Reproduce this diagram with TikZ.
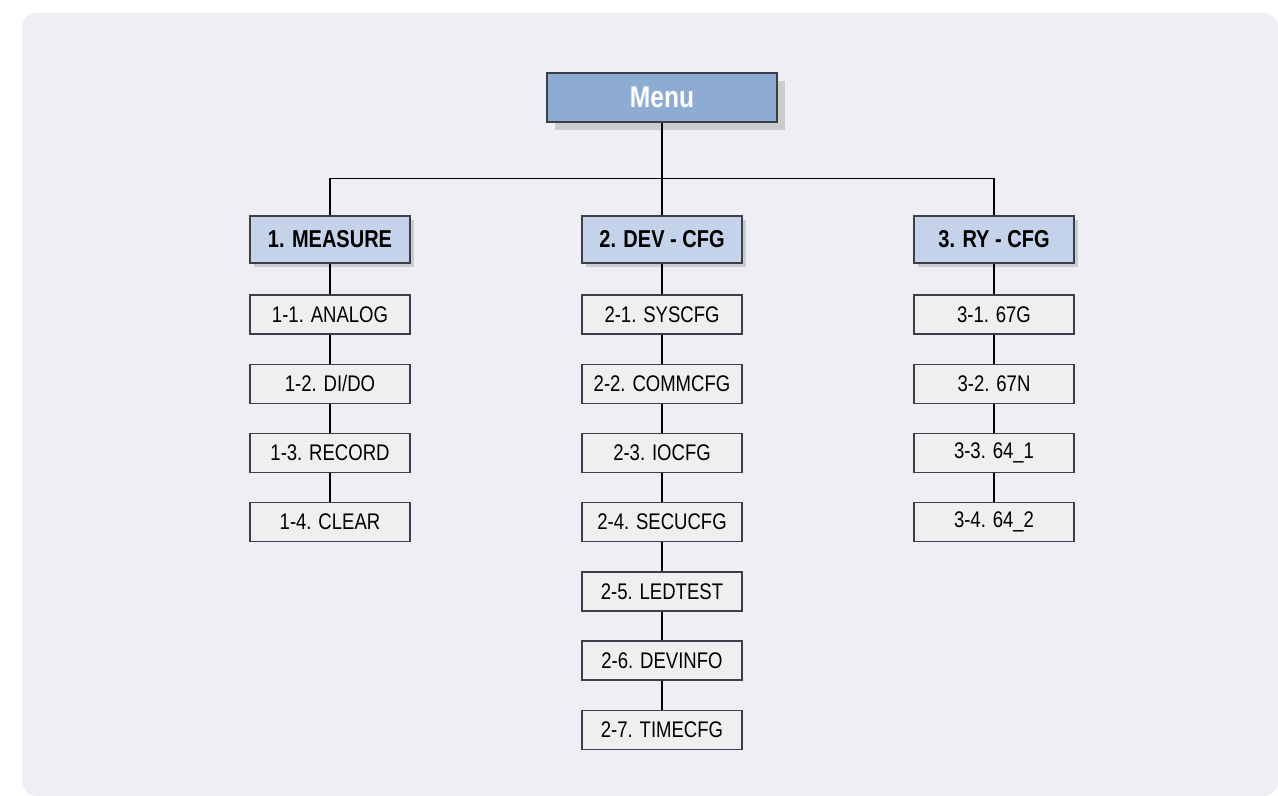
\documentclass[tikz,border=0pt]{standalone}
\usepackage{fontspec}
\setmainfont{Liberation Sans}[FakeStretch=0.82]
\usepackage{tikz}
\usetikzlibrary{shadows}
\definecolor{panelbg}{HTML}{EEEEF4}
\definecolor{menufill}{HTML}{8EABD4}
\definecolor{groupfill}{HTML}{C5D3EA}
\definecolor{itemfill}{HTML}{EFEFEF}
\definecolor{boxline}{HTML}{3A3F48}

\begin{document}
\begin{tikzpicture}[x=0.5pt, y=-0.5pt,
  grow=down,
  level 1/.style={sibling distance=166pt, level distance=71pt,
    edge from parent path={(\tikzparentnode.south) -- ++(0,-28pt) -| (\tikzchildnode.north)}},
  level 2/.style={level distance=37.5pt,
    edge from parent path={(\tikzparentnode.south) -- (\tikzchildnode.north)}},
  level 3/.style={level distance=34.6pt},
  edge from parent/.style={draw, line width=0.8pt},
  menubox/.style={draw=boxline, line width=0.7pt, fill=menufill,
    minimum width=115pt, minimum height=24.5pt, inner sep=0pt,
    font=\fontsize{15}{17}\selectfont\bfseries, text=white,
    drop shadow={shadow xshift=3.8pt, shadow yshift=-3.8pt, fill=black!20, opacity=1}},
  groupbox/.style={draw=boxline, line width=0.7pt, fill=groupfill,
    minimum width=80pt, minimum height=23.5pt, inner sep=0pt,
    font=\fontsize{12.2}{14}\selectfont\bfseries,
    drop shadow={shadow xshift=2pt, shadow yshift=-2pt, fill=black!20, opacity=1}},
  itembox/.style={draw=boxline, line width=0.7pt, fill=itemfill,
    minimum width=80pt, minimum height=19.5pt, inner sep=0pt,
    font=\fontsize{11.3}{13}\selectfont}]
  \useasboundingbox (0,0) rectangle (1278,796);
  \fill[panelbg, rounded corners=7pt] (22,13) rectangle (1278,796);
  \node[menubox] (menu) at (662,97.5) {Menu}
    child { node[groupbox] (measure) {1. MEASURE}
      child { node[itembox] (m1) {1-1. ANALOG}
        child { node[itembox] (m2) {1-2. DI/DO}
          child { node[itembox] (m3) {1-3. RECORD}
            child { node[itembox] (m4) {1-4. CLEAR}}
          }
        }
      }
    }
    child { node[groupbox] (devcfg) {2. DEV - CFG}
      child { node[itembox] (d1) {2-1. SYSCFG}
        child { node[itembox] (d2) {2-2. COMMCFG}
          child { node[itembox] (d3) {2-3. IOCFG}
            child { node[itembox] (d4) {2-4. SECUCFG}
              child { node[itembox] (d5) {2-5. LEDTEST}
                child { node[itembox] (d6) {2-6. DEVINFO}
                  child { node[itembox] (d7) {2-7. TIMECFG}}
                }
              }
            }
          }
        }
      }
    }
    child { node[groupbox] (rycfg) {3. RY - CFG}
      child { node[itembox] (r1) {3-1. 67G}
        child { node[itembox] (r2) {3-2. 67N}
          child { node[itembox] (r3) {3-3. 64\_1}
            child { node[itembox] (r4) {3-4. 64\_2}}
          }
        }
      }
    };
\end{tikzpicture}
\end{document}
